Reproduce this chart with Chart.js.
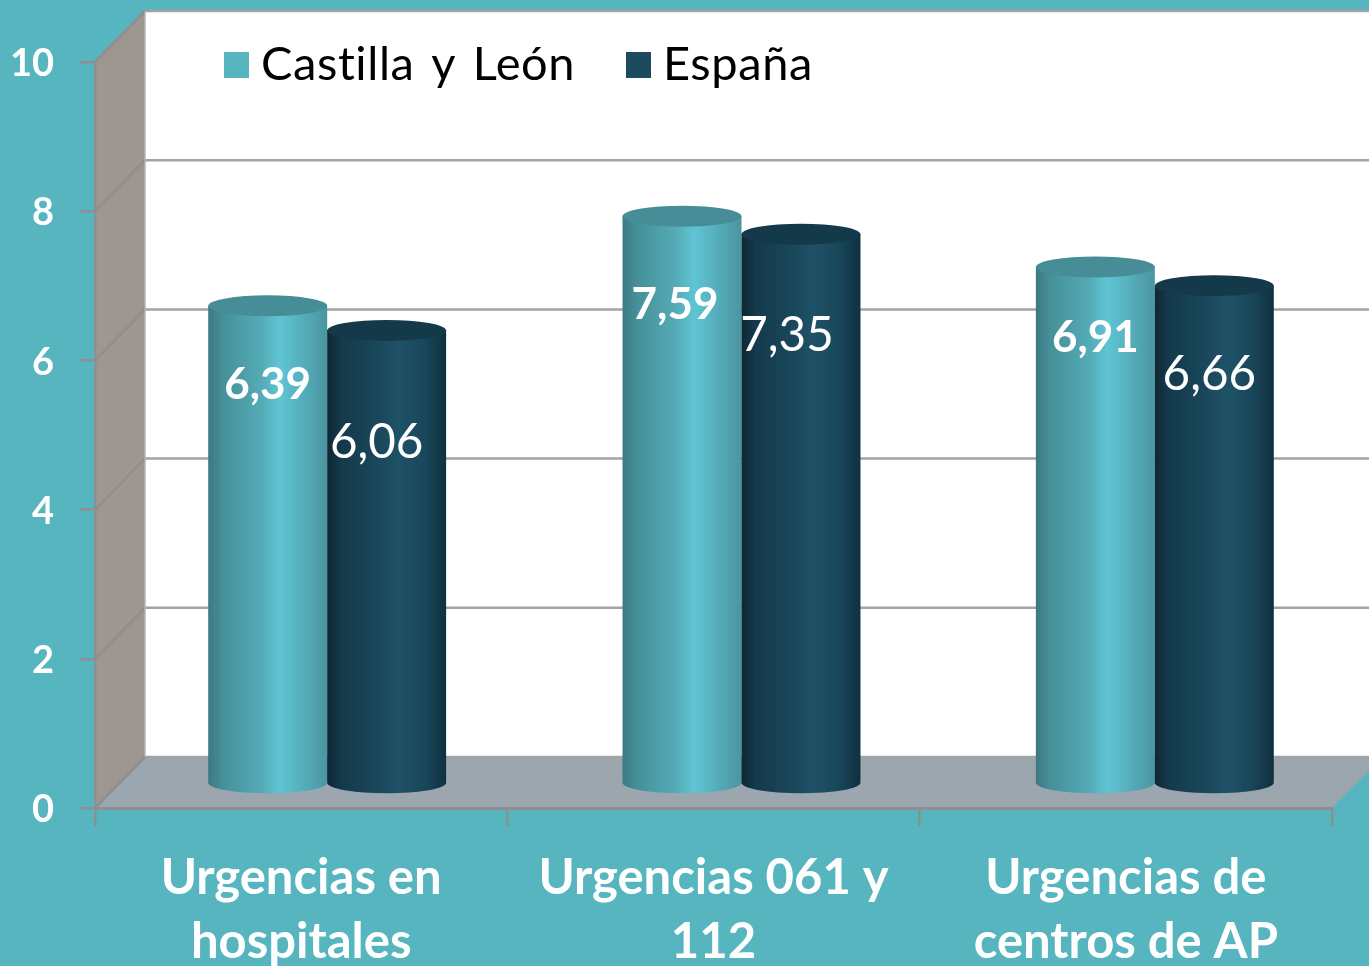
<!DOCTYPE html>
<html lang="es">
<head>
<meta charset="utf-8">
<title>Urgencias</title>
<script src="https://cdn.jsdelivr.net/npm/chart.js@4"></script>
<style>
  html, body { margin: 0; padding: 0; background: #57b5c0; overflow: hidden; }
  canvas { display: block; }
</style>
</head>
<body>
<canvas id="grafico" width="1369" height="966"></canvas>
<script>
const categorias = [['Urgencias en', 'hospitales'], ['Urgencias 061 y', '112'], ['Urgencias de', 'centros de AP']];
const castillaLeon = [6.39, 7.59, 6.91];
const espana = [6.06, 7.35, 6.66];
const ticksY = [0, 2, 4, 6, 8, 10];

// Desplazamiento de las etiquetas respecto al centro de la parte superior del cilindro
const ajusteCastilla = [[0, 79], [-7, 89], [0, 71]];
const ajusteEspana = [[-10, 112], [-14, 101], [-5, 89]];
// Los grupos de cilindros no caen justo en el centro de cada categoría
const ajusteGrupo = [0, 2, 3];

const FONDO = '#57b5c0';
const GRIS = '#8f8f8f';
const FUENTE = 'Lato, Carlito, sans-serif';
const FONDO_X = 50;   // profundidad de la caja 3D
const FONDO_Y = 51;

const estilos = [
  {
    tapa: '#468d98',
    stops: [[0, '#3b7982'], [0.12, '#469099'], [0.45, '#54abb6'], [0.6, '#5fc5d4'], [0.8, '#55adba'], [1, '#4a95a1']]
  },
  {
    tapa: '#14394a',
    stops: [[0, '#0e2734'], [0.12, '#143a4b'], [0.45, '#1a485c'], [0.6, '#1f5267'], [0.82, '#19465a'], [1, '#10303f']]
  }
];

function linea(ctx, x1, y1, x2, y2) {
  ctx.beginPath();
  ctx.moveTo(x1, y1);
  ctx.lineTo(x2, y2);
  ctx.stroke();
}

function poligono(ctx, puntos, color) {
  ctx.fillStyle = color;
  ctx.beginPath();
  puntos.forEach((p, i) => i ? ctx.lineTo(p[0], p[1]) : ctx.moveTo(p[0], p[1]));
  ctx.closePath();
  ctx.fill();
}

function dibujarCaja(chart) {
  const ctx = chart.ctx;
  const y = chart.scales.y;
  const area = chart.chartArea;
  const y0 = y.getPixelForValue(0);
  const y10 = y.getPixelForValue(10);
  const xFondo = area.left + FONDO_X;

  ctx.save();
  ctx.fillStyle = FONDO;
  ctx.fillRect(0, 0, chart.width, chart.height);

  // pared del fondo, pared izquierda y suelo
  ctx.fillStyle = '#ffffff';
  ctx.fillRect(xFondo, y10 - FONDO_Y, area.right + FONDO_X - xFondo, y0 - y10);
  poligono(ctx, [[area.left, y10], [xFondo, y10 - FONDO_Y], [xFondo, y0 - FONDO_Y], [area.left, y0]], '#9e9690');
  poligono(ctx, [[area.left, y0], [xFondo, y0 - FONDO_Y], [area.right + FONDO_X, y0 - FONDO_Y], [area.right, y0]], '#9ba6ae');

  ctx.lineWidth = 2.5;
  ticksY.forEach(v => {
    const py = y.getPixelForValue(v);
    ctx.strokeStyle = '#a3a3a3';
    linea(ctx, xFondo, py - FONDO_Y, area.right + FONDO_X, py - FONDO_Y);
    ctx.strokeStyle = GRIS;
    linea(ctx, area.left, py, xFondo, py - FONDO_Y);
  });
  ctx.lineWidth = 1.5;
  ctx.strokeStyle = '#b5b5b5';
  linea(ctx, xFondo, y10 - FONDO_Y, xFondo, y0 - FONDO_Y);
  ctx.restore();
}

function dibujarCilindro(ctx, barra, estilo, j) {
  const ancho = barra.width;
  const cx = barra.x + FONDO_X / 2 + 1 + ajusteGrupo[j];
  const izq = cx - ancho / 2;
  const der = cx + ancho / 2;
  const arriba = barra.y - FONDO_Y / 2;
  const abajo = barra.base - 24;
  const ry = 10.5;

  const grad = ctx.createLinearGradient(izq, 0, der, 0);
  estilo.stops.forEach(s => grad.addColorStop(s[0], s[1]));
  ctx.fillStyle = grad;
  ctx.beginPath();
  ctx.moveTo(izq, arriba);
  ctx.lineTo(izq, abajo);
  ctx.ellipse(cx, abajo, ancho / 2, ry, 0, Math.PI, 0, true);
  ctx.lineTo(der, arriba);
  ctx.closePath();
  ctx.fill();

  ctx.fillStyle = estilo.tapa;
  ctx.beginPath();
  ctx.ellipse(cx, arriba, ancho / 2, ry, 0, 0, Math.PI * 2);
  ctx.fill();
}

function dibujarEtiquetas(chart) {
  const ctx = chart.ctx;
  ctx.save();
  ctx.fillStyle = '#ffffff';
  ctx.textAlign = 'center';
  ctx.textBaseline = 'middle';
  chart.data.datasets.forEach((ds, i) => {
    const ajuste = i === 0 ? ajusteCastilla : ajusteEspana;
    ctx.font = i === 0 ? 'bold 44px ' + FUENTE : '47.5px ' + FUENTE;
    chart.getDatasetMeta(i).data.forEach((barra, j) => {
      const texto = ds.data[j].toFixed(2).replace('.', ',');
      const cx = barra.x + FONDO_X / 2 + 1 + ajusteGrupo[j];
      ctx.fillText(texto, cx + ajuste[j][0], barra.y - FONDO_Y / 2 + ajuste[j][1]);
    });
  });
  ctx.restore();
}

function dibujarLeyenda(chart) {
  const ctx = chart.ctx;
  const posiciones = [224, 626];
  ctx.save();
  ctx.font = '47px ' + FUENTE;
  ctx.letterSpacing = '0.6px';
  ctx.wordSpacing = '4px';
  ctx.textBaseline = 'middle';
  chart.data.datasets.forEach((ds, i) => {
    ctx.fillStyle = ds.backgroundColor;
    ctx.fillRect(posiciones[i], 52, 25, 26);
    ctx.fillStyle = '#000000';
    ctx.fillText(ds.label, posiciones[i] + 37, 65);
  });
  ctx.restore();
}

const cilindros = {
  id: 'cilindros',
  beforeDraw(chart) {
    dibujarCaja(chart);
  },
  beforeDatasetDraw() {
    return false; // las barras planas se sustituyen por cilindros
  },
  afterDatasetsDraw(chart) {
    chart.data.datasets.forEach((ds, i) => {
      chart.getDatasetMeta(i).data.forEach((barra, j) => dibujarCilindro(chart.ctx, barra, estilos[i], j));
    });
    dibujarEtiquetas(chart);
    dibujarLeyenda(chart);
  }
};

new Chart(document.getElementById('grafico').getContext('2d'), {
  type: 'bar',
  data: {
    labels: categorias,
    datasets: [
      { label: 'Castilla y León', data: castillaLeon, backgroundColor: '#57b5c0' },
      { label: 'España', data: espana, backgroundColor: '#1c4a5e' }
    ]
  },
  plugins: [cilindros],
  options: {
    responsive: false,
    animation: false,
    categoryPercentage: 0.577,
    barPercentage: 1,
    layout: { padding: { top: 62, right: 37, left: 0, bottom: 0 } },
    plugins: {
      legend: { display: false },
      tooltip: { enabled: false }
    },
    scales: {
      x: {
        afterFit: scale => { scale.height = 158; },
        grid: { drawOnChartArea: false, color: GRIS, lineWidth: 2.5, tickLength: 18 },
        border: { color: GRIS, width: 3 },
        ticks: {
          color: '#ffffff',
          autoSkip: false,
          maxRotation: 0,
          padding: 20,
          font: { family: FUENTE, size: 49, weight: 'bold', lineHeight: 1.306 }
        }
      },
      y: {
        min: 0,
        max: 10,
        afterFit: scale => { scale.width = 95; },
        afterBuildTicks: scale => { scale.ticks = ticksY.map(v => ({ value: v })); },
        grid: { drawOnChartArea: false, color: GRIS, lineWidth: 2.5, tickLength: 15 },
        border: { color: GRIS, width: 2.5 },
        ticks: {
          color: '#ffffff',
          padding: 26,
          labelOffset: 2,
          font: { family: FUENTE, size: 38, weight: 'bold' }
        }
      }
    }
  }
});
</script>
</body>
</html>
